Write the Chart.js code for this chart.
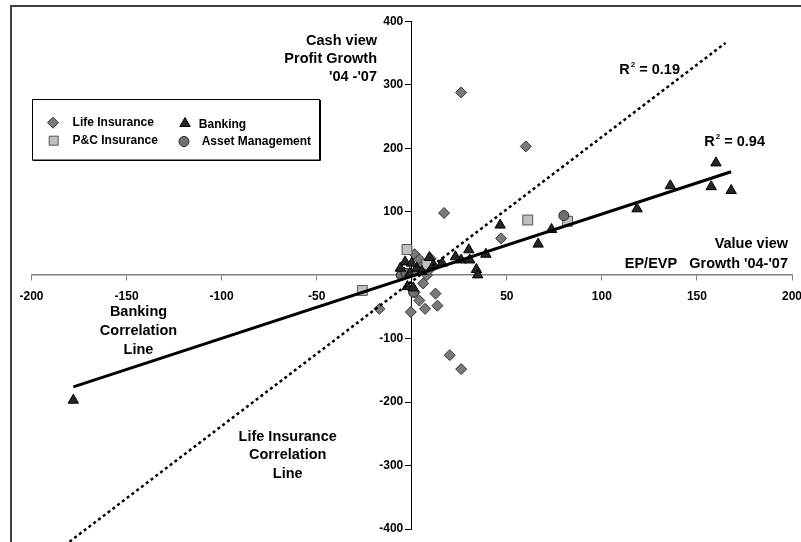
<!DOCTYPE html>
<html>
<head>
<meta charset="utf-8">
<script src="https://cdn.jsdelivr.net/npm/chart.js"></script>
<style>
  body { margin: 0; background: #fff; overflow: hidden; }
</style>
</head>
<body>
<canvas id="myChart" width="801" height="542"></canvas>
<script>
// data (x = EP/EVP growth, y = profit growth)
const lifeX = [26, 60, 17, 47, 20, 26, -17, -0.5, 7, 13.5, 12.5, 4, 1.5, 6, 8, 1.5, 4, 6, 10, 9, -4, 3]
const lifeY = [288, 203, 98, 58, -126, -148, -53, -58, -53, -48, -29, -40, -27, -13, 0, 33, 25, 16, 26, 8, 4, 8]

const bankX = [-178, 160, 157.5, 168, 136, 118.5, 73.5, 66.5, 46.5, 39, 30, 26, 23, 30.5, 34, 34.7, 16, 11.5, 9.3, -3.5, -6, 2.6, 5.3, -1, -2.3, 0.8, 0]
const bankY = [-197, 177, 139.5, 133.5, 141, 104.6, 72, 49, 79, 33, 40, 24, 29, 24, 9, 0.5, 19, 16, 28, 21, 11, 11, 6, 3, -18, -20, 19]

const pcX = [61, 82, -2.5, -26, 8]
const pcY = [87, 85, 40.5, -24, 17]

const assetX = [80, -5.5, -3, 1]
const assetY = [94, 0, 3, -27]

// correlation lines, end points as drawn
const bankFitX = [-178, 168]
const bankFitY = [-176, 163]
const lifeFitX = [-180, 165]
const lifeFitY = [-420, 366]

const xTicks = [-200, -150, -100, -50, 0, 50, 100, 150, 200]
const yTicks = [-400, -300, -200, -100, 0, 100, 200, 300, 400]

const seriesNames = ["Life Insurance", "Banking", "P&C Insurance", "Asset Management"]
const r2Labels = ["0.19", "0.94"]
const cashText = ["Cash view", "Profit Growth", "'04 -'07"]
const valueText = ["Value view", "EP/EVP   Growth '04-'07"]
const bankLineText = ["Banking", "Correlation", "Line"]
const lifeLineText = ["Life Insurance", "Correlation", "Line"]

const FONT = '"Liberation Sans", Arial, sans-serif'

function zip(xs, ys) {
    return xs.map((x, i) => ({x: x, y: ys[i]}))
}

function drawMarker(ctx, kind, x, y) {
    ctx.save()
    ctx.lineWidth = 1
    ctx.beginPath()
    if (kind == "diamond") {
        ctx.fillStyle = '#7a7a7a'; ctx.strokeStyle = '#333'
        ctx.moveTo(x, y - 5.5); ctx.lineTo(x + 5.5, y); ctx.lineTo(x, y + 5.5); ctx.lineTo(x - 5.5, y)
    } else if (kind == "triangle") {
        ctx.fillStyle = '#262626'; ctx.strokeStyle = '#000'
        ctx.moveTo(x, y - 6); ctx.lineTo(x + 5.2, y + 3); ctx.lineTo(x - 5.2, y + 3)
    } else if (kind == "square") {
        ctx.fillStyle = '#c0c0c0'; ctx.strokeStyle = '#555'
        ctx.rect(x - 4.5, y - 4.5, 9, 9)
    } else {
        ctx.fillStyle = '#707070'; ctx.strokeStyle = '#222'
        ctx.arc(x, y, 5, 0, Math.PI * 2)
    }
    ctx.closePath()
    ctx.fill()
    ctx.stroke()
    ctx.restore()
}

function drawR2(ctx, x, y, val) {
    ctx.textAlign = 'left'
    ctx.font = 'bold 14.5px ' + FONT
    ctx.fillText('R', x, y)
    let w = ctx.measureText('R').width
    ctx.font = 'bold 8px ' + FONT
    ctx.fillText('2', x + w + 1, y - 5)
    let w2 = ctx.measureText('2').width
    ctx.font = 'bold 14.5px ' + FONT
    ctx.fillText(' = ' + val, x + w + w2 + 1, y)
}

const decorations = {
    id: 'decorations',
    beforeDraw(chart) {
        const ctx = chart.ctx
        ctx.save()
        ctx.strokeStyle = '#404040'
        ctx.lineWidth = 2
        ctx.strokeRect(11, 6, 820, 560)
        ctx.restore()
    },
    afterDraw(chart) {
        const ctx = chart.ctx
        ctx.save()
        ctx.textBaseline = 'middle'

        // y tick labels, placed left of the centred axis
        const xs = chart.scales.x, ys = chart.scales.y
        const axisX = xs.getPixelForValue(0)
        ctx.fillStyle = '#000'
        ctx.font = 'bold 12px ' + FONT
        ctx.textAlign = 'right'
        yTicks.forEach(v => {
            if (v !== 0) ctx.fillText(String(v), axisX - 8.5, ys.getPixelForValue(v))
        })

        // legend box
        ctx.fillStyle = '#fff'
        ctx.fillRect(32.5, 99.5, 287, 60.5)
        ctx.strokeStyle = '#000'
        ctx.lineWidth = 1
        ctx.strokeRect(32.5, 99.5, 287, 60.5)
        ctx.beginPath()
        ctx.moveTo(33, 160.5); ctx.lineTo(320.5, 160.5); ctx.lineTo(320.5, 100)
        ctx.stroke()
        drawMarker(ctx, "diamond", 53, 122.7)
        drawMarker(ctx, "triangle", 185, 123.5)
        drawMarker(ctx, "square", 53.7, 140.7)
        drawMarker(ctx, "circle", 184, 141.5)
        ctx.fillStyle = '#000'
        ctx.font = 'bold 12px ' + FONT
        ctx.textAlign = 'left'
        ctx.fillText(seriesNames[0], 72.6, 122.7)
        ctx.fillText(seriesNames[1], 198.8, 124.5)
        ctx.fillText(seriesNames[2], 72.6, 140.7)
        ctx.fillText(seriesNames[3], 201.7, 142)

        // axis titles
        ctx.font = 'bold 14.5px ' + FONT
        ctx.textAlign = 'right'
        cashText.forEach((t, i) => ctx.fillText(t, 377, 40.5 + i * 18))
        valueText.forEach((t, i) => ctx.fillText(t, 788, 244 + i * 19.5))

        ctx.textAlign = 'center'
        bankLineText.forEach((t, i) => ctx.fillText(t, 138.5, 312.3 + i * 18.9))
        lifeLineText.forEach((t, i) => ctx.fillText(t, 287.7, 436.5 + i * 18.7))

        drawR2(ctx, 619.3, 69.5, r2Labels[0])
        drawR2(ctx, 704.3, 142, r2Labels[1])
        ctx.restore()
    }
}

const tickFont = {family: FONT, size: 12, weight: 'bold'}

new Chart(document.getElementById("myChart"), {
    type: 'scatter',
    data: {
        datasets: [{
            label: "Banking fit",
            data: zip(bankFitX, bankFitY),
            showLine: true,
            pointRadius: 0,
            borderColor: '#000',
            borderWidth: 3,
            clip: false
        }, {
            label: "Life fit",
            data: zip(lifeFitX, lifeFitY),
            showLine: true,
            pointRadius: 0,
            borderColor: '#000',
            borderWidth: 2.5,
            borderDash: [3, 3],
            clip: false
        }, {
            label: seriesNames[1],
            data: zip(bankX, bankY),
            pointStyle: 'triangle',
            pointRadius: 6,
            backgroundColor: '#262626',
            borderColor: '#000',
            borderWidth: 1
        }, {
            label: seriesNames[3],
            data: zip(assetX, assetY),
            pointStyle: 'circle',
            pointRadius: 5,
            backgroundColor: '#707070',
            borderColor: '#222',
            borderWidth: 1
        }, {
            label: seriesNames[2],
            data: zip(pcX, pcY),
            pointStyle: 'rect',
            pointRadius: 7,
            backgroundColor: '#c0c0c0',
            borderColor: '#555',
            borderWidth: 1
        }, {
            label: seriesNames[0],
            data: zip(lifeX, lifeY),
            pointStyle: 'rectRot',
            pointRadius: 5.5,
            backgroundColor: '#7a7a7a',
            borderColor: '#333',
            borderWidth: 1
        }]
    },
    options: {
        responsive: false,
        animation: false,
        layout: {padding: {left: 31.5, top: 21.4, right: 9, bottom: 13}},
        plugins: {legend: {display: false}, tooltip: {enabled: false}},
        scales: {
            x: {
                type: 'linear',
                min: -200,
                max: 200,
                position: {y: 0},
                afterFit: s => { s.height = 0; s.paddingLeft = 0; s.paddingRight = 0 },
                afterBuildTicks: s => { s.ticks = xTicks.map(v => ({value: v})) },
                grid: {drawOnChartArea: false, drawTicks: true, tickLength: 5, color: '#808080'},
                border: {display: true, color: '#808080', width: 1.5},
                ticks: {color: '#000', font: tickFont, padding: 9, maxRotation: 0, autoSkip: false,
                    callback: v => v === 0 ? '' : v}
            },
            y: {
                type: 'linear',
                min: -400,
                max: 400,
                position: {x: 0},
                afterFit: s => { s.width = 0; s.paddingTop = 0; s.paddingBottom = 0 },
                afterBuildTicks: s => { s.ticks = yTicks.map(v => ({value: v})) },
                grid: {drawOnChartArea: false, drawTicks: true, tickLength: 6, color: '#000'},
                border: {display: true, color: '#000', width: 1},
                ticks: {display: false}
            }
        }
    },
    plugins: [decorations]
})
</script>
</body>
</html>
